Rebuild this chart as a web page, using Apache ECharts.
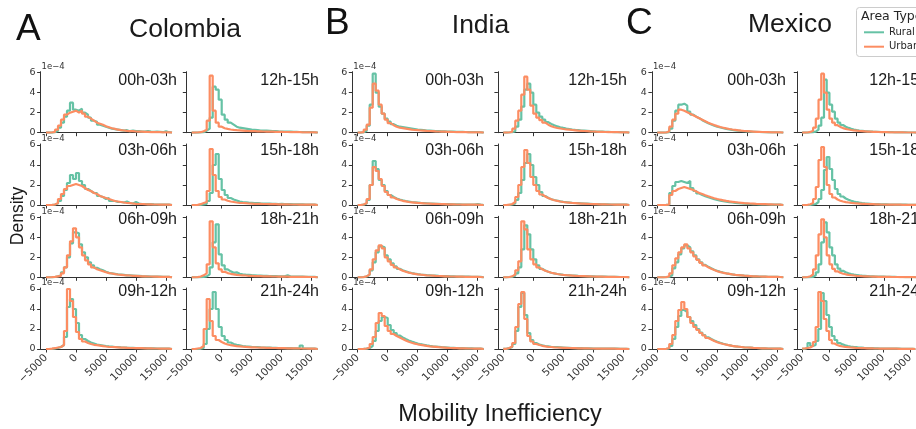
<!DOCTYPE html>
<html>
<head>
<meta charset="UTF-8">
<title>Mobility Inefficiency</title>
<style type="text/css">
  html, body { margin: 0; padding: 0; background: #fff; }
  #main { width: 916px; height: 429px; }
</style>
</head>
<body>
<div id="main"></div>
<script src="https://cdn.jsdelivr.net/npm/echarts@6/dist/echarts.min.js"></script>
<script type="text/javascript">
// histogram bin edges (mobility inefficiency), 500 wide
var binEdges = [-5000, -4500, -4000, -3500, -3000, -2500, -2000, -1500, -1000, -500,
  0, 500, 1000, 1500, 2000, 2500, 3000, 3500, 4000, 4500,
  5000, 5500, 6000, 6500, 7000, 7500, 8000, 8500, 9000, 9500,
  10000, 10500, 11000, 11500, 12000, 12500, 13000, 13500, 14000, 14500,
  15000, 15500, 16000];

var countries = ['Colombia', 'India', 'Mexico'];
var panelLetters = ['A', 'B', 'C'];
var hourLabels = [['00h-03h', '03h-06h', '06h-09h', '09h-12h'], ['12h-15h', '15h-18h', '18h-21h', '21h-24h']];
var xTicks = [-5000, 0, 5000, 10000, 15000];
var yTicks = [0, 2, 4, 6];   // density, x 1e-4
var areaTypes = ['Rural', 'Urban'];

// ---- Colombia (density x 1e-4, per bin)
var co_rural_0003 = [0, 0, 0.05, 0.2, 0.5, 1.0, 1.6, 2.2, 3.0, 2.3,
  2.2, 2.4, 2.0, 1.8, 1.5, 1.2, 1.1, 0.8, 0.7, 0.6,
  0.5, 0.4, 0.35, 0.3, 0.25, 0.2, 0.25, 0.15, 0.2, 0.15,
  0.15, 0.1, 0.1, 0.15, 0.1, 0.08, 0.1, 0.08, 0.05, 0.15, 0.05, 0];
var co_urban_0003 = [0, 0.02, 0.08, 0.3, 0.7, 1.3, 1.8, 2.0, 2.1, 2.2,
  2.0, 2.2, 1.9, 1.6, 1.4, 1.2, 1.0, 0.9, 0.8, 0.65,
  0.55, 0.45, 0.38, 0.3, 0.25, 0.22, 0.18, 0.15, 0.15, 0.12,
  0.1, 0.1, 0.08, 0.08, 0.06, 0.06, 0.05, 0.05, 0.04, 0.04, 0.03, 0];
var co_rural_0306 = [0, 0, 0.05, 0.15, 0.4, 0.9, 1.5, 2.2, 3.0, 2.6,
  3.2, 2.4, 2.0, 1.6, 1.4, 1.2, 1.2, 0.9, 0.8, 0.6,
  0.7, 0.4, 0.4, 0.3, 0.3, 0.25, 0.35, 0.2, 0.15, 0.3,
  0.15, 0.1, 0.1, 0.08, 0.08, 0.06, 0.05, 0.05, 0.04, 0.04, 0.03, 0];
var co_urban_0306 = [0, 0.02, 0.05, 0.2, 0.6, 1.1, 1.6, 1.9, 2.0, 2.1,
  2.0, 1.9, 1.7, 1.5, 1.4, 1.2, 1.1, 0.9, 0.8, 0.7,
  0.6, 0.5, 0.4, 0.35, 0.3, 0.25, 0.2, 0.18, 0.15, 0.12,
  0.1, 0.1, 0.08, 0.07, 0.06, 0.05, 0.05, 0.04, 0.04, 0.03, 0.03, 0];
var co_rural_0609 = [0, 0, 0.03, 0.1, 0.2, 0.5, 1.0, 2.0, 3.4, 4.5,
  4.4, 3.3, 2.5, 2.0, 1.5, 1.2, 0.95, 0.8, 0.7, 0.55,
  0.45, 0.4, 0.35, 0.3, 0.28, 0.25, 0.2, 0.2, 0.18, 0.15,
  0.15, 0.12, 0.1, 0.1, 0.08, 0.08, 0.06, 0.06, 0.05, 0.05, 0.04, 0];
var co_urban_0609 = [0, 0.02, 0.05, 0.1, 0.15, 0.4, 1.0, 2.2, 3.6, 4.9,
  4.0, 3.0, 2.2, 1.7, 1.3, 1.0, 0.8, 0.7, 0.6, 0.5,
  0.42, 0.38, 0.32, 0.28, 0.25, 0.22, 0.2, 0.18, 0.15, 0.14,
  0.12, 0.1, 0.1, 0.08, 0.08, 0.07, 0.06, 0.05, 0.05, 0.04, 0.04, 0];
var co_rural_0912 = [0, 0.02, 0.05, 0.1, 0.2, 0.4, 1.2, 4.2, 5.0, 4.0,
  2.6, 1.4, 1.0, 0.8, 0.65, 0.55, 0.45, 0.4, 0.35, 0.3,
  0.26, 0.24, 0.2, 0.18, 0.16, 0.15, 0.13, 0.12, 0.11, 0.1,
  0.1, 0.08, 0.08, 0.07, 0.06, 0.06, 0.05, 0.05, 0.04, 0.04, 0.03, 0];
var co_urban_0912 = [0, 0.03, 0.08, 0.15, 0.2, 0.4, 1.8, 6.0, 4.8, 3.2,
  1.7, 1.0, 0.75, 0.6, 0.5, 0.42, 0.38, 0.33, 0.29, 0.25,
  0.22, 0.2, 0.18, 0.16, 0.14, 0.13, 0.12, 0.1, 0.1, 0.09,
  0.08, 0.08, 0.07, 0.06, 0.06, 0.05, 0.05, 0.04, 0.04, 0.03, 0.03, 0];
var co_rural_1215 = [0, 0, 0.02, 0.05, 0.2, 0.4, 1.5, 4.6, 4.3, 3.3,
  1.8, 1.3, 1.0, 0.8, 0.6, 0.5, 0.45, 0.4, 0.35, 0.3,
  0.28, 0.25, 0.22, 0.2, 0.2, 0.18, 0.15, 0.15, 0.13, 0.12,
  0.12, 0.1, 0.1, 0.08, 0.08, 0.07, 0.06, 0.06, 0.05, 0.05, 0.04, 0];
var co_urban_1215 = [0, 0.02, 0.05, 0.15, 0.3, 1.2, 5.7, 2.2, 1.0, 0.6,
  0.45, 0.38, 0.32, 0.28, 0.25, 0.23, 0.21, 0.19, 0.17, 0.16,
  0.15, 0.14, 0.13, 0.12, 0.11, 0.1, 0.1, 0.09, 0.08, 0.08,
  0.07, 0.07, 0.06, 0.06, 0.05, 0.05, 0.04, 0.04, 0.04, 0.03, 0.03, 0];
var co_rural_1518 = [0, 0, 0.02, 0.05, 0.1, 0.4, 1.2, 4.0, 5.1, 2.6,
  1.5, 1.0, 0.7, 0.55, 0.45, 0.35, 0.3, 0.27, 0.24, 0.22,
  0.2, 0.18, 0.16, 0.15, 0.14, 0.13, 0.12, 0.11, 0.1, 0.12,
  0.09, 0.08, 0.08, 0.07, 0.07, 0.06, 0.06, 0.05, 0.05, 0.04, 0.04, 0];
var co_urban_1518 = [0, 0.02, 0.08, 0.2, 0.3, 1.4, 5.6, 3.0, 1.4, 0.8,
  0.55, 0.42, 0.35, 0.3, 0.25, 0.22, 0.2, 0.18, 0.15, 0.14,
  0.12, 0.12, 0.11, 0.1, 0.1, 0.09, 0.08, 0.08, 0.07, 0.07,
  0.06, 0.06, 0.05, 0.05, 0.05, 0.04, 0.04, 0.04, 0.03, 0.03, 0.03, 0];
var co_rural_1821 = [0, 0, 0.02, 0.05, 0.1, 0.3, 1.0, 3.5, 5.3, 2.3,
  1.2, 0.8, 0.6, 0.45, 0.5, 0.35, 0.3, 0.27, 0.25, 0.22,
  0.2, 0.18, 0.17, 0.15, 0.14, 0.13, 0.12, 0.12, 0.1, 0.1,
  0.09, 0.2, 0.08, 0.07, 0.07, 0.06, 0.06, 0.05, 0.05, 0.04, 0.04, 0];
var co_urban_1821 = [0, 0.02, 0.08, 0.2, 0.4, 1.3, 5.6, 3.0, 1.4, 0.8,
  0.55, 0.42, 0.35, 0.3, 0.25, 0.22, 0.2, 0.18, 0.15, 0.14,
  0.12, 0.12, 0.11, 0.1, 0.1, 0.09, 0.08, 0.08, 0.07, 0.07,
  0.06, 0.06, 0.05, 0.05, 0.05, 0.04, 0.04, 0.04, 0.03, 0.03, 0.03, 0];
var co_rural_2124 = [0, 0, 0.02, 0.1, 0.5, 2.0, 4.0, 5.7, 4.0, 2.2,
  1.3, 0.9, 0.65, 0.5, 0.42, 0.36, 0.3, 0.27, 0.25, 0.22,
  0.2, 0.18, 0.16, 0.15, 0.14, 0.13, 0.12, 0.11, 0.1, 0.1,
  0.09, 0.08, 0.08, 0.07, 0.07, 0.06, 0.35, 0.05, 0.05, 0.04, 0.04, 0];
var co_urban_2124 = [0, 0.05, 0.1, 0.3, 2.0, 5.0, 2.8, 1.3, 0.9, 0.7,
  0.55, 0.45, 0.38, 0.33, 0.29, 0.26, 0.23, 0.21, 0.19, 0.17,
  0.16, 0.15, 0.14, 0.13, 0.12, 0.11, 0.1, 0.1, 0.09, 0.08,
  0.08, 0.07, 0.07, 0.06, 0.06, 0.05, 0.05, 0.05, 0.04, 0.04, 0.03, 0];

// ---- India
var in_rural_0003 = [0, 0.03, 0.2, 0.7, 2.8, 5.9, 4.0, 2.6, 1.9, 1.4,
  1.1, 0.85, 0.7, 0.6, 0.55, 0.5, 0.45, 0.4, 0.35, 0.3,
  0.28, 0.25, 0.22, 0.2, 0.18, 0.16, 0.15, 0.14, 0.13, 0.12,
  0.11, 0.1, 0.09, 0.08, 0.08, 0.07, 0.06, 0.06, 0.05, 0.05, 0.04, 0];
var in_urban_0003 = [0, 0.05, 0.3, 0.8, 2.5, 4.9, 4.2, 2.8, 1.9, 1.3,
  0.95, 0.75, 0.6, 0.5, 0.45, 0.4, 0.35, 0.3, 0.27, 0.25,
  0.22, 0.2, 0.18, 0.17, 0.15, 0.13, 0.12, 0.11, 0.1, 0.09,
  0.08, 0.07, 0.06, 0.06, 0.05, 0.05, 0.04, 0.04, 0.03, 0.03, 0.03, 0];
var in_rural_0306 = [0, 0.03, 0.15, 0.5, 2.0, 4.4, 3.6, 2.5, 2.0, 1.4,
  1.0, 0.8, 0.65, 0.55, 0.47, 0.4, 0.35, 0.3, 0.27, 0.24,
  0.21, 0.19, 0.17, 0.15, 0.14, 0.12, 0.11, 0.1, 0.09, 0.08,
  0.08, 0.07, 0.06, 0.06, 0.05, 0.05, 0.04, 0.04, 0.03, 0.08, 0.03, 0];
var in_urban_0306 = [0, 0.05, 0.2, 0.6, 2.0, 3.8, 3.4, 2.6, 1.9, 1.3,
  1.0, 0.75, 0.6, 0.5, 0.42, 0.36, 0.3, 0.27, 0.24, 0.21,
  0.19, 0.17, 0.15, 0.14, 0.12, 0.11, 0.1, 0.09, 0.08, 0.07,
  0.07, 0.06, 0.05, 0.05, 0.04, 0.04, 0.04, 0.03, 0.03, 0.03, 0.02, 0];
var in_rural_0609 = [0, 0.02, 0.08, 0.25, 0.7, 1.5, 2.5, 3.1, 3.0, 2.2,
  1.8, 1.4, 1.1, 0.85, 0.7, 0.6, 0.5, 0.43, 0.37, 0.32,
  0.28, 0.25, 0.22, 0.2, 0.18, 0.16, 0.14, 0.13, 0.12, 0.11,
  0.1, 0.09, 0.08, 0.07, 0.07, 0.06, 0.06, 0.05, 0.05, 0.04, 0.04, 0];
var in_urban_0609 = [0, 0.02, 0.1, 0.3, 0.8, 1.8, 2.7, 3.2, 2.9, 2.0,
  1.6, 1.25, 1.0, 0.8, 0.65, 0.55, 0.47, 0.4, 0.35, 0.3,
  0.26, 0.23, 0.2, 0.18, 0.16, 0.14, 0.13, 0.12, 0.1, 0.09,
  0.08, 0.08, 0.07, 0.06, 0.06, 0.05, 0.05, 0.04, 0.04, 0.04, 0.03, 0];
var in_rural_0912 = [0, 0.01, 0.04, 0.1, 0.3, 0.8, 1.8, 2.8, 3.2, 3.1,
  2.4, 1.9, 1.6, 1.35, 1.15, 1.0, 0.86, 0.74, 0.64, 0.55,
  0.48, 0.42, 0.36, 0.31, 0.27, 0.24, 0.21, 0.18, 0.16, 0.14,
  0.12, 0.11, 0.1, 0.09, 0.08, 0.07, 0.06, 0.06, 0.05, 0.05, 0.04, 0];
var in_urban_0912 = [0, 0.02, 0.05, 0.15, 0.5, 1.2, 2.6, 3.6, 3.3, 2.3,
  1.8, 1.5, 1.3, 1.15, 1.0, 0.85, 0.72, 0.62, 0.54, 0.47,
  0.41, 0.36, 0.31, 0.27, 0.24, 0.21, 0.18, 0.16, 0.14, 0.12,
  0.1, 0.09, 0.08, 0.07, 0.06, 0.06, 0.05, 0.05, 0.04, 0.04, 0.03, 0];
var in_rural_1215 = [0, 0.02, 0.05, 0.15, 0.6, 1.3, 2.6, 4.3, 4.9, 4.0,
  2.8, 2.0, 1.6, 1.3, 1.05, 0.88, 0.75, 0.63, 0.55, 0.48,
  0.42, 0.37, 0.32, 0.28, 0.25, 0.22, 0.2, 0.18, 0.16, 0.14,
  0.12, 0.11, 0.1, 0.09, 0.08, 0.07, 0.06, 0.05, 0.05, 0.04, 0.04, 0];
var in_urban_1215 = [0, 0.02, 0.1, 0.4, 1.2, 2.2, 3.8, 5.6, 4.3, 2.7,
  1.9, 1.5, 1.25, 1.0, 0.8, 0.65, 0.55, 0.47, 0.42, 0.37,
  0.33, 0.3, 0.27, 0.24, 0.21, 0.19, 0.17, 0.15, 0.13, 0.12,
  0.1, 0.09, 0.08, 0.07, 0.06, 0.06, 0.05, 0.05, 0.04, 0.04, 0.03, 0];
var in_rural_1518 = [0, 0.02, 0.05, 0.15, 0.5, 1.2, 2.5, 4.2, 5.1, 4.0,
  2.8, 2.0, 1.3, 0.9, 0.7, 0.58, 0.5, 0.43, 0.37, 0.32,
  0.28, 0.25, 0.22, 0.2, 0.18, 0.16, 0.14, 0.13, 0.12, 0.1,
  0.09, 0.08, 0.07, 0.07, 0.06, 0.05, 0.05, 0.04, 0.04, 0.03, 0.03, 0];
var in_urban_1518 = [0, 0.03, 0.1, 0.3, 0.8, 2.0, 3.8, 5.5, 4.2, 2.8,
  2.0, 1.4, 1.05, 0.85, 0.7, 0.58, 0.48, 0.41, 0.35, 0.3,
  0.26, 0.23, 0.2, 0.18, 0.16, 0.14, 0.13, 0.12, 0.1, 0.09,
  0.08, 0.07, 0.07, 0.06, 0.05, 0.05, 0.04, 0.04, 0.03, 0.03, 0.03, 0];
var in_rural_1821 = [0, 0.02, 0.05, 0.15, 0.4, 1.0, 2.8, 5.2, 4.3, 2.8,
  1.8, 1.2, 0.85, 0.67, 0.55, 0.46, 0.39, 0.33, 0.29, 0.25,
  0.22, 0.2, 0.18, 0.16, 0.14, 0.13, 0.12, 0.11, 0.1, 0.09,
  0.08, 0.07, 0.07, 0.06, 0.05, 0.05, 0.04, 0.04, 0.03, 0.03, 0.03, 0];
var in_urban_1821 = [0, 0.03, 0.1, 0.3, 0.7, 1.6, 5.6, 4.8, 2.8, 1.8,
  1.3, 1.0, 0.8, 0.65, 0.55, 0.46, 0.39, 0.33, 0.28, 0.24,
  0.21, 0.19, 0.17, 0.15, 0.13, 0.12, 0.11, 0.1, 0.09, 0.08,
  0.07, 0.07, 0.06, 0.05, 0.05, 0.04, 0.04, 0.03, 0.03, 0.03, 0.02, 0];
var in_rural_2124 = [0.02, 0.08, 0.2, 0.5, 1.8, 4.2, 5.6, 3.4, 1.6, 0.9,
  0.6, 0.45, 0.36, 0.3, 0.26, 0.22, 0.2, 0.18, 0.16, 0.14,
  0.12, 0.11, 0.1, 0.09, 0.08, 0.08, 0.07, 0.06, 0.06, 0.05,
  0.05, 0.05, 0.04, 0.04, 0.04, 0.03, 0.03, 0.03, 0.02, 0.02, 0.02, 0];
var in_urban_2124 = [0.02, 0.1, 0.25, 0.6, 2.2, 4.5, 5.7, 3.0, 1.3, 0.75,
  0.5, 0.4, 0.32, 0.26, 0.22, 0.2, 0.17, 0.15, 0.14, 0.12,
  0.11, 0.1, 0.09, 0.08, 0.07, 0.07, 0.06, 0.06, 0.05, 0.05,
  0.04, 0.04, 0.04, 0.03, 0.03, 0.03, 0.03, 0.02, 0.02, 0.02, 0.02, 0];

// ---- Mexico
var mx_rural_0003 = [0, 0, 0.01, 0.05, 0.4, 1.2, 2.2, 2.8, 2.9, 2.7,
  2.1, 1.8, 1.6, 1.45, 1.25, 1.1, 0.95, 0.82, 0.7, 0.6,
  0.52, 0.45, 0.38, 0.33, 0.28, 0.24, 0.2, 0.17, 0.15, 0.13,
  0.11, 0.09, 0.08, 0.07, 0.06, 0.05, 0.04, 0.04, 0.03, 0.03, 0.02, 0];
var mx_urban_0003 = [0, 0, 0.02, 0.15, 0.6, 1.3, 1.9, 2.3, 2.2, 2.05,
  1.9, 1.75, 1.6, 1.45, 1.3, 1.15, 1.0, 0.88, 0.76, 0.66,
  0.57, 0.5, 0.43, 0.37, 0.32, 0.28, 0.24, 0.2, 0.17, 0.15,
  0.13, 0.11, 0.09, 0.08, 0.07, 0.06, 0.05, 0.04, 0.04, 0.03, 0.03, 0];
var mx_rural_0306 = [0, 0, 0.01, 0.05, 1.2, 1.9, 2.3, 2.4, 2.3, 2.2,
  2.4, 1.7, 1.4, 1.15, 1.0, 0.88, 0.77, 0.67, 0.58, 0.5,
  0.44, 0.38, 0.33, 0.29, 0.25, 0.22, 0.19, 0.16, 0.14, 0.12,
  0.1, 0.09, 0.08, 0.07, 0.06, 0.05, 0.05, 0.04, 0.04, 0.03, 0.03, 0];
var mx_urban_0306 = [0, 0, 0.02, 0.05, 1.0, 1.4, 1.6, 1.7, 1.8, 1.7,
  1.6, 1.5, 1.35, 1.2, 1.1, 0.98, 0.87, 0.77, 0.68, 0.6,
  0.53, 0.47, 0.41, 0.36, 0.32, 0.28, 0.25, 0.22, 0.19, 0.17,
  0.15, 0.13, 0.11, 0.1, 0.09, 0.08, 0.07, 0.06, 0.05, 0.05, 0.04, 0];
var mx_rural_0609 = [0, 0, 0.01, 0.05, 0.2, 0.9, 1.5, 2.3, 2.9, 3.2,
  3.0, 2.6, 2.2, 1.8, 1.5, 1.25, 1.05, 0.9, 0.76, 0.64,
  0.55, 0.47, 0.4, 0.34, 0.29, 0.25, 0.22, 0.19, 0.16, 0.14,
  0.12, 0.1, 0.09, 0.08, 0.07, 0.06, 0.05, 0.05, 0.04, 0.04, 0.03, 0];
var mx_urban_0609 = [0, 0, 0.02, 0.1, 0.4, 1.2, 1.9, 2.5, 3.0, 3.3,
  2.9, 2.5, 2.1, 1.75, 1.45, 1.2, 1.0, 0.85, 0.72, 0.6,
  0.52, 0.45, 0.39, 0.34, 0.29, 0.25, 0.22, 0.19, 0.16, 0.14,
  0.12, 0.1, 0.09, 0.08, 0.07, 0.06, 0.05, 0.05, 0.04, 0.04, 0.03, 0];
var mx_rural_0912 = [0, 0, 0.01, 0.05, 0.3, 1.0, 2.2, 3.3, 3.9, 3.7,
  3.2, 2.8, 2.4, 2.0, 1.65, 1.4, 1.17, 1.0, 0.85, 0.72,
  0.62, 0.53, 0.45, 0.38, 0.32, 0.27, 0.23, 0.2, 0.17, 0.15,
  0.13, 0.11, 0.1, 0.08, 0.07, 0.06, 0.05, 0.05, 0.04, 0.04, 0.03, 0];
var mx_urban_0912 = [0, 0, 0.02, 0.1, 0.5, 1.4, 2.8, 3.9, 4.7, 4.0,
  3.2, 2.6, 2.2, 1.9, 1.6, 1.35, 1.1, 0.95, 0.8, 0.68,
  0.58, 0.5, 0.43, 0.37, 0.31, 0.27, 0.23, 0.2, 0.17, 0.15,
  0.13, 0.11, 0.1, 0.08, 0.07, 0.06, 0.05, 0.05, 0.04, 0.04, 0.03, 0];
var mx_rural_1215 = [0, 0, 0.02, 0.05, 0.1, 0.3, 0.7, 1.5, 5.3, 4.0,
  2.8, 2.1, 1.4, 1.0, 0.77, 0.6, 0.48, 0.38, 0.31, 0.26,
  0.22, 0.19, 0.16, 0.14, 0.12, 0.1, 0.09, 0.08, 0.07, 0.06,
  0.06, 0.05, 0.05, 0.04, 0.04, 0.03, 0.03, 0.03, 0.02, 0.02, 0.02, 0];
var mx_urban_1215 = [0, 0.02, 0.08, 0.2, 0.5, 1.4, 3.3, 5.9, 4.0, 2.3,
  1.4, 1.0, 0.75, 0.58, 0.46, 0.38, 0.32, 0.27, 0.23, 0.2,
  0.17, 0.15, 0.13, 0.11, 0.1, 0.09, 0.08, 0.07, 0.06, 0.05,
  0.05, 0.04, 0.04, 0.04, 0.03, 0.03, 0.03, 0.02, 0.02, 0.02, 0.02, 0];
var mx_rural_1518 = [0, 0, 0.02, 0.05, 0.1, 0.3, 0.6, 1.5, 3.5, 4.8,
  3.6, 2.5, 1.6, 1.1, 0.85, 0.65, 0.52, 0.42, 0.34, 0.28,
  0.23, 0.19, 0.16, 0.14, 0.12, 0.1, 0.09, 0.08, 0.07, 0.06,
  0.06, 0.05, 0.05, 0.04, 0.04, 0.03, 0.03, 0.03, 0.02, 0.02, 0.02, 0];
var mx_urban_1518 = [0, 0.02, 0.08, 0.2, 0.6, 1.8, 4.5, 5.8, 3.8, 2.0,
  1.1, 0.75, 0.55, 0.43, 0.35, 0.29, 0.25, 0.21, 0.18, 0.16,
  0.14, 0.12, 0.11, 0.1, 0.09, 0.08, 0.07, 0.06, 0.05, 0.05,
  0.04, 0.04, 0.04, 0.03, 0.03, 0.03, 0.02, 0.02, 0.02, 0.02, 0.02, 0];
var mx_rural_1821 = [0, 0, 0.02, 0.05, 0.2, 0.5, 1.3, 3.5, 5.5, 4.5,
  3.0, 2.2, 1.3, 0.87, 0.65, 0.5, 0.4, 0.33, 0.27, 0.23,
  0.19, 0.16, 0.14, 0.12, 0.1, 0.09, 0.08, 0.07, 0.06, 0.06,
  0.05, 0.05, 0.04, 0.04, 0.03, 0.03, 0.03, 0.02, 0.02, 0.02, 0.02, 0];
var mx_urban_1821 = [0, 0.03, 0.1, 0.3, 0.8, 2.2, 4.3, 5.8, 4.0, 2.2,
  1.3, 0.85, 0.6, 0.45, 0.36, 0.3, 0.25, 0.21, 0.18, 0.15,
  0.13, 0.11, 0.1, 0.09, 0.08, 0.07, 0.06, 0.05, 0.05, 0.04,
  0.04, 0.04, 0.03, 0.03, 0.03, 0.02, 0.02, 0.02, 0.02, 0.02, 0.01, 0];
var mx_rural_2124 = [0.02, 0.1, 0.6, 0.3, 0.4, 0.8, 2.0, 5.6, 4.8, 3.4,
  2.2, 1.3, 0.9, 0.6, 0.46, 0.37, 0.3, 0.25, 0.21, 0.18,
  0.15, 0.13, 0.11, 0.1, 0.09, 0.08, 0.07, 0.06, 0.05, 0.05,
  0.04, 0.04, 0.04, 0.03, 0.03, 0.03, 0.02, 0.02, 0.02, 0.02, 0.02, 0];
var mx_urban_2124 = [0.05, 0.1, 0.15, 0.3, 0.7, 2.2, 5.7, 4.8, 3.0, 1.8,
  0.9, 0.55, 0.4, 0.31, 0.25, 0.21, 0.18, 0.15, 0.13, 0.11,
  0.1, 0.09, 0.08, 0.07, 0.06, 0.06, 0.05, 0.05, 0.04, 0.04,
  0.04, 0.03, 0.03, 0.03, 0.03, 0.02, 0.02, 0.02, 0.02, 0.02, 0.01, 0];

// panel table: country, column (0 = night/morning, 1 = afternoon/evening), row
var panels = [
  [0, 0, 0, co_rural_0003, co_urban_0003], [0, 0, 1, co_rural_0306, co_urban_0306],
  [0, 0, 2, co_rural_0609, co_urban_0609], [0, 0, 3, co_rural_0912, co_urban_0912],
  [0, 1, 0, co_rural_1215, co_urban_1215], [0, 1, 1, co_rural_1518, co_urban_1518],
  [0, 1, 2, co_rural_1821, co_urban_1821], [0, 1, 3, co_rural_2124, co_urban_2124],
  [1, 0, 0, in_rural_0003, in_urban_0003], [1, 0, 1, in_rural_0306, in_urban_0306],
  [1, 0, 2, in_rural_0609, in_urban_0609], [1, 0, 3, in_rural_0912, in_urban_0912],
  [1, 1, 0, in_rural_1215, in_urban_1215], [1, 1, 1, in_rural_1518, in_urban_1518],
  [1, 1, 2, in_rural_1821, in_urban_1821], [1, 1, 3, in_rural_2124, in_urban_2124],
  [2, 0, 0, mx_rural_0003, mx_urban_0003], [2, 0, 1, mx_rural_0306, mx_urban_0306],
  [2, 0, 2, mx_rural_0609, mx_urban_0609], [2, 0, 3, mx_rural_0912, mx_urban_0912],
  [2, 1, 0, mx_rural_1215, mx_urban_1215], [2, 1, 1, mx_rural_1518, mx_urban_1518],
  [2, 1, 2, mx_rural_1821, mx_urban_1821], [2, 1, 3, mx_rural_2124, mx_urban_2124]
];

// layout
var colLeft = [40.6, 186.3, 352.3, 497.9, 651.9, 797.3];
var rowTop = [71.7, 144, 216.3, 288];
var gridW = 130.8, gridH = 61;
var labelRight = [177, 319, 484, 627, 786, 928];
var labelMidY = [80.3, 150.5, 219.2, 292];
var colors = ['#66c2a5', '#fc8d62'];
var axisColor = '#333';
var tickFont = 'DejaVu Sans';
var titleFont = 'Liberation Sans, Arial, sans-serif';

function toSteps(vals) {
  return binEdges.map(function (e, k) { return [e, k < vals.length ? vals[k] : 0]; });
}
function fmtX(v) { return v < 0 ? '\u2212' + (-v) : String(v); }

var myChart = echarts.init(document.getElementById('main'));
var grids = [], xAxes = [], yAxes = [], series = [], graphics = [];

panels.forEach(function (p, i) {
  var c = p[0] * 2 + p[1], row = p[2];
  grids.push({ left: colLeft[c], top: rowTop[row], width: gridW, height: gridH });
  xAxes.push({
    type: 'value', gridIndex: i, min: -5900, max: 15900,
    axisLine: { show: true, onZero: false, lineStyle: { color: axisColor, width: 1 } },
    axisTick: { show: true, length: 3.5, customValues: xTicks, lineStyle: { color: axisColor } },
    axisLabel: { show: row === 3, customValues: xTicks, rotate: 45, margin: 7, fontSize: 10.5,
      fontFamily: tickFont, color: axisColor, formatter: fmtX },
    splitLine: { show: false }
  });
  yAxes.push({
    type: 'value', gridIndex: i, min: 0, max: 6.1,
    axisLine: { show: true, onZero: false, lineStyle: { color: axisColor, width: 1 } },
    axisTick: { show: true, length: 3.5, customValues: yTicks, lineStyle: { color: axisColor } },
    axisLabel: { show: p[1] === 0, customValues: yTicks, margin: 5, fontSize: 9.5,
      fontFamily: tickFont, color: axisColor },
    splitLine: { show: false }
  });
  [p[3], p[4]].forEach(function (vals, k) {
    series.push({
      type: 'line', name: areaTypes[k], xAxisIndex: i, yAxisIndex: i,
      data: toSteps(vals), step: 'end', symbol: 'none', silent: true,
      lineStyle: { color: colors[k], width: 2.2 }, itemStyle: { color: colors[k] },
      z: 2 + k
    });
  });
  // panel time label
  graphics.push({
    type: 'text', x: labelRight[c], y: labelMidY[row],
    style: { text: hourLabels[p[1]][row], fontSize: 16, fontFamily: titleFont, fill: '#1a1a1a',
      align: 'right', verticalAlign: 'middle' }
  });
  // offset text of the y axis
  if (p[1] === 0) {
    graphics.push({
      type: 'text', x: colLeft[c] + 1, y: rowTop[row] - 5,
      style: { text: '1e\u22124', fontSize: 8.5, fontFamily: tickFont, fill: axisColor,
        align: 'left', verticalAlign: 'middle' }
    });
  }
});

// country titles and panel letters
var titleX = [185, 480.5, 790], titleY = [30, 25.5, 24.2];
var letterX = [16, 325, 626], letterY = [30, 23.9, 23.3];
countries.forEach(function (name, k) {
  graphics.push({ type: 'text', x: titleX[k], y: titleY[k],
    style: { text: name, fontSize: 26.5, fontFamily: titleFont, fill: '#1a1a1a', align: 'center', verticalAlign: 'middle' } });
  graphics.push({ type: 'text', x: letterX[k], y: letterY[k],
    style: { text: panelLetters[k], fontSize: 37, fontFamily: titleFont, fill: '#111', align: 'left', verticalAlign: 'middle' } });
});

// shared axis titles
graphics.push({ type: 'text', x: 18, y: 216, rotation: Math.PI / 2,
  style: { text: 'Density', fontSize: 17.5, fontFamily: titleFont, fill: '#1a1a1a', align: 'center', verticalAlign: 'middle' } });
graphics.push({ type: 'text', x: 500, y: 415,
  style: { text: 'Mobility Inefficiency', fontSize: 23.5, fontFamily: titleFont, fill: '#1a1a1a', align: 'center', verticalAlign: 'middle' } });

// legend frame and title
graphics.push({ type: 'rect', shape: { x: 856.5, y: 7.5, width: 80, height: 49, r: 3 },
  style: { fill: 'rgba(255,255,255,0.8)', stroke: '#cccccc', lineWidth: 1 }, z: 10 });
graphics.push({ type: 'text', x: 861, y: 16.5, z: 11,
  style: { text: 'Area Type', fontSize: 12.5, fontFamily: tickFont, fill: '#262626', align: 'left', verticalAlign: 'middle' } });

var option = {
  animation: false,
  backgroundColor: '#fff',
  grid: grids,
  xAxis: xAxes,
  yAxis: yAxes,
  series: series,
  graphic: graphics,
  legend: {
    data: areaTypes, orient: 'vertical', left: 864, top: 26.3, padding: 0,
    icon: 'rect', itemWidth: 20, itemHeight: 2, itemGap: 2.4,
    textStyle: { fontSize: 10, lineHeight: 12, fontFamily: tickFont, color: '#262626' },
    z: 12
  }
};
myChart.setOption(option);
</script>
</body>
</html>
